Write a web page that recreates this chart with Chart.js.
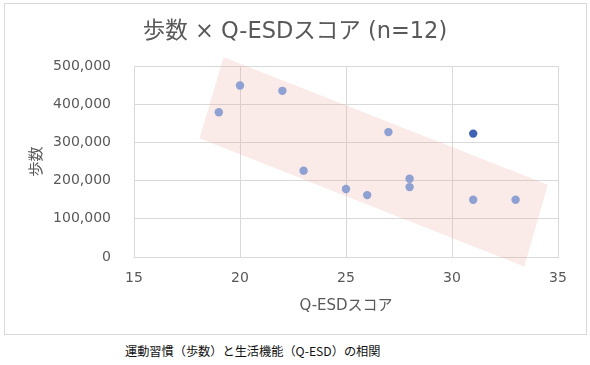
<!DOCTYPE html>
<html>
<head>
<meta charset="utf-8">
<script src="https://cdn.jsdelivr.net/npm/chart.js@4.4.1/dist/chart.umd.min.js"></script>
<style>
  body { margin: 0; background: #fff; width: 590px; height: 365px; position: relative; overflow: hidden; }
  #box { position: absolute; left: 4px; top: 3px; width: 583px; height: 332px; box-sizing: border-box; border: 1px solid #d9d9d9; }
  #chart { position: absolute; left: 5px; top: 4px; }
  #caption { position: absolute; left: 125px; top: 343px; font: 12.2px/16px "Noto Sans CJK JP", sans-serif; color: #111; white-space: nowrap; }
</style>
</head>
<body>
<div id="box"></div>
<canvas id="chart" width="580" height="329"></canvas>
<div id="caption">運動習慣（歩数）と生活機能（Q-ESD）の相関</div>
<script>
// Q-ESD score vs steps
const qesdScores = [19, 20, 22, 23, 25, 26, 27, 28, 28, 31, 31, 33];
const stepCounts = [379000, 449000, 435000, 226000, 178000, 162000, 327000, 205000, 183000, 323000, 150000, 150000];
const highlighted = 9;

// corners of the shaded band (data units)
const bandX = [19.23, 34.52, 33.41, 18.09];
const bandY = [522700, 189000, -24600, 311000];

const xTicks = [15, 20, 25, 30, 35];
const yTicks = [0, 100000, 200000, 300000, 400000, 500000];

const textColor = '#595959';
const gridColor = '#d9d9d9';
const latin = 'DejaVu Sans';
const mixed = 'DejaVu Sans, Noto Sans CJK JP';

const bandPlugin = {
    id: 'band',
    beforeDatasetsDraw(chart) {
        const { ctx, scales: { x, y } } = chart;
        ctx.save();
        ctx.beginPath();
        bandX.forEach((v, i) => {
            const px = x.getPixelForValue(v);
            const py = y.getPixelForValue(bandY[i]);
            if (i === 0) ctx.moveTo(px, py); else ctx.lineTo(px, py);
        });
        ctx.closePath();
        ctx.fillStyle = 'rgba(231,160,150,0.22)';
        ctx.fill();
        ctx.restore();
    }
};

new Chart(document.getElementById('chart'), {
    type: 'scatter',
    data: {
        datasets: [{
            data: qesdScores.map((v, i) => ({ x: v, y: stepCounts[i] })),
            pointRadius: 4.2,
            pointBorderWidth: 0,
            pointBackgroundColor: c => c.dataIndex === highlighted ? '#3f63b4' : '#8fa1d2',
            pointHoverRadius: 4.2
        }]
    },
    options: {
        responsive: false,
        animation: false,
        events: [],
        layout: { padding: 0 },
        plugins: {
            legend: { display: false },
            tooltip: { enabled: false },
            title: {
                display: true,
                text: '歩数 × Q-ESDスコア (n=12)',
                color: textColor,
                font: { family: mixed, size: 22.5, weight: 'normal', lineHeight: 1.2 },
                padding: { top: 15, bottom: 20 }
            }
        },
        scales: {
            x: {
                type: 'linear',
                min: xTicks[0],
                max: xTicks[xTicks.length - 1],
                afterBuildTicks: s => { s.ticks = xTicks.map(v => ({ value: v })); },
                afterFit: s => { s.height = 76; },
                grid: { color: gridColor, drawTicks: false },
                border: { color: gridColor },
                ticks: { color: textColor, padding: 13, font: { family: latin, size: 14 } },
                title: {
                    display: true,
                    text: 'Q-ESDスコア',
                    color: textColor,
                    font: { family: mixed, size: 15 },
                    padding: { top: 0, bottom: 18 }
                }
            },
            y: {
                min: yTicks[0],
                max: yTicks[yTicks.length - 1],
                afterBuildTicks: s => { s.ticks = yTicks.map(v => ({ value: v })); },
                afterFit: s => { s.width = 129; },
                grid: { color: gridColor, drawTicks: false },
                border: { color: gridColor },
                ticks: {
                    color: textColor,
                    padding: 23,
                    font: { family: latin, size: 14 },
                    callback: v => v.toLocaleString('en-US')
                },
                title: {
                    display: true,
                    text: '歩数',
                    color: textColor,
                    font: { family: 'Noto Sans CJK JP', size: 15 },
                    padding: { top: 21, bottom: 0 }
                }
            },
            // empty axis on the right, only to keep a margin there
            yRight: {
                position: 'right',
                afterFit: s => { s.width = 27; },
                grid: { display: false, drawTicks: false },
                border: { display: false },
                ticks: { display: false }
            }
        }
    },
    plugins: [bandPlugin]
});
</script>
</body>
</html>
